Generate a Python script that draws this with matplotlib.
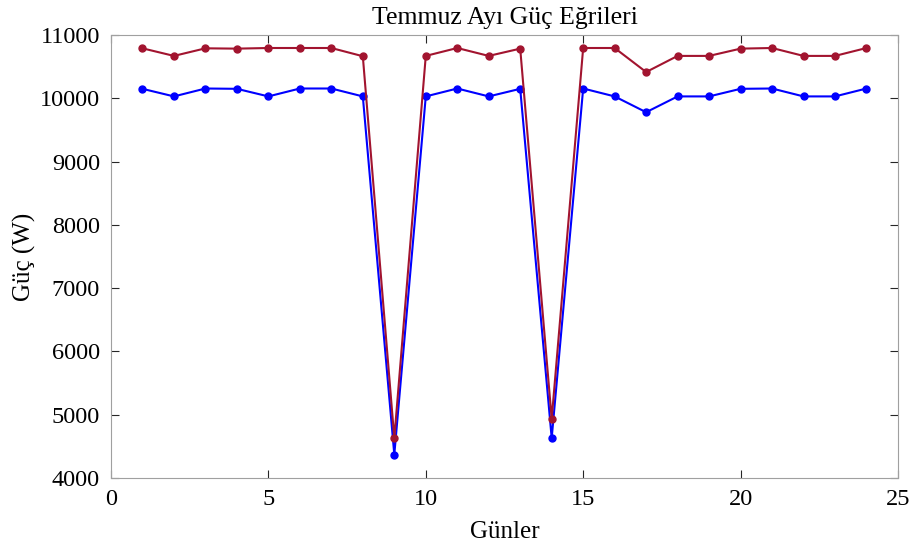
import numpy as np
import matplotlib.pyplot as plt

plt.rcParams['font.family'] = ['Liberation Serif', 'DejaVu Serif']

gunler = list(range(1, 25))
guc_kirmizi = [10790, 10670, 10790, 10785, 10795, 10795, 10795, 10665, 4630, 10670,
               10795, 10670, 10785, 4935, 10795, 10795, 10415, 10670, 10670, 10785,
               10795, 10670, 10670, 10795]
guc_mavi = [10150, 10030, 10155, 10150, 10030, 10155, 10155, 10030, 4370, 10030,
            10155, 10030, 10150, 4630, 10155, 10030, 9780, 10030, 10030, 10150,
            10155, 10030, 10030, 10155]

fig = plt.figure(figsize=(9.12, 5.49), dpi=100)
ax = fig.add_axes([0.1217, 0.1293, 0.8629, 0.8069])

ax.plot(gunler, guc_mavi, '-o', color='#0000FF', lw=1.5, ms=5)
ax.plot(gunler, guc_kirmizi, '-o', color='#A2142F', lw=1.5, ms=5)

ax.set_xlim(0, 25)
ax.set_ylim(4000, 11000)
ax.set_xticks([0, 5, 10, 15, 20, 25])
ax.set_yticks(range(4000, 11001, 1000))
ax.tick_params(direction='in', top=True, right=True, labelsize=17.5, length=6,
               color='#262626', pad=8)
for s in ax.spines.values():
    s.set_color('#A0A0A0')
    s.set_linewidth(0.8)

ax.set_xlabel('Günler', fontsize=18, labelpad=8)
ax.set_ylabel('Güç (W)', fontsize=18, labelpad=3)
ax.set_title('Temmuz Ayı Güç Eğrileri', fontsize=18.5, pad=8)

fig.savefig('out.png', dpi=100)
